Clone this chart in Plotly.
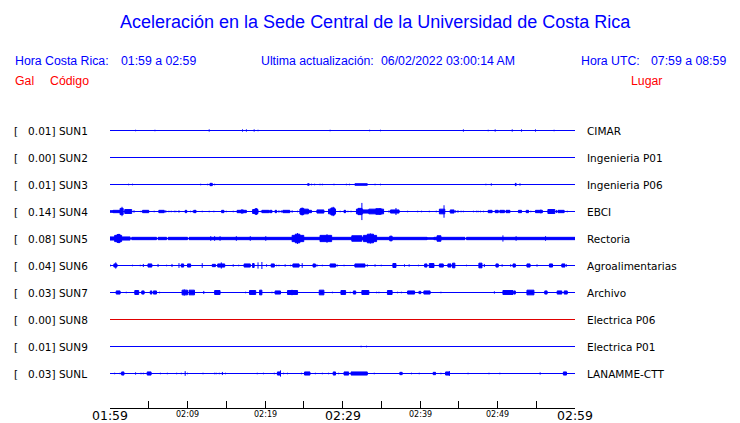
import plotly.graph_objects as go

# ---------------- data ----------------
TITLE = "Aceleración en la Sede Central de la Universidad de Costa Rica"
HORA_CR = "01:59 a 02:59"
HORA_UTC = "07:59 a 08:59"
ACTUALIZACION = "06/02/2022 03:00:14 AM"

CODES = ["SUN1", "SUN2", "SUN3", "SUN4", "SUN5", "SUN6", "SUN7", "SUN8", "SUN9", "SUNL"]
GAL = [0.01, 0.00, 0.01, 0.14, 0.08, 0.04, 0.03, 0.00, 0.01, 0.03]
PLACES = ["CIMAR", "Ingenieria P01", "Ingenieria P06", "EBCI", "Rectoria",
          "Agroalimentarias", "Archivo", "Electrica P06", "Electrica P01", "LANAMME-CTT"]

TICK_MINUTES = [0, 5, 10, 15, 20, 25, 30, 35, 40, 45, 50, 55, 60]   # minutes after 01:59
LABEL_MINUTES = [0, 10, 20, 30, 40, 50, 60]
TICK_LABELS = ["01:59", "02:09", "02:19", "02:29", "02:39", "02:49", "02:59"]
MAJOR_LABELS = ["01:59", "02:29", "02:59"]

# bursts: (start minute, end minute, half amplitude); spikes: (minute, half amplitude)
SUN1_BURSTS = []
SUN1_SPIKES = [(3.3, 1), (5.8, 1), (12.8, 1.5), (17.1, 1.5), (17.6, 1.5), (18.6, 1.5), (19.1, 1),
               (28.4, 1), (33.5, 1), (34.9, 1), (45.6, 1.5), (48.8, 1), (49.7, 1.5), (51.9, 1.5),
               (53.1, 1.5), (54.9, 1.5), (57.3, 1)]

SUN2_BURSTS = []
SUN2_SPIKES = []

SUN3_BURSTS = [(12.9, 13.2, 1.5), (25.5, 25.7, 1), (31.6, 33.2, 1), (52.3, 52.4, 1.5)]
SUN3_SPIKES = [(2.4, 1), (2.9, 1), (11.7, 1), (12.6, 1), (13.5, 1), (26.0, 1), (26.4, 1), (27.1, 1),
               (27.4, 1), (28.9, 1), (30.5, 1), (30.9, 1), (34.2, 1), (34.9, 1), (48.5, 1),
               (49.2, 1.5), (52.9, 1.5)]

SUN4_BURSTS = [(0.0, 0.4, 1), (0.4, 1.3, 1.5), (1.3, 1.7, 4), (1.9, 2.8, 2.5), (4.2, 5.0, 1.5),
               (6.3, 7.0, 1.5), (9.7, 9.9, 1.5), (10.8, 11.1, 1.5), (14.4, 14.7, 1.5),
               (16.4, 17.6, 1.5), (16.9, 17.2, 2), (18.4, 19.1, 2.5), (18.7, 19.0, 3.5),
               (19.6, 20.5, 1.5), (20.6, 20.9, 1.5), (21.3, 21.5, 1.5), (22.3, 23.2, 1.5),
               (24.5, 25.6, 3), (24.6, 25.0, 4), (25.6, 26.0, 1.5), (26.7, 27.6, 2),
               (28.2, 29.1, 3), (28.5, 29.0, 4.5), (30.2, 30.4, 1.5), (31.8, 32.6, 3),
               (32.0, 32.5, 4), (32.6, 33.4, 2), (33.4, 35.3, 3), (34.3, 35.0, 3.5),
               (36.2, 37.3, 2), (42.5, 43.2, 3), (43.9, 44.4, 2), (48.8, 49.3, 1.5),
               (49.7, 50.1, 1.5), (50.3, 50.9, 1.5), (51.1, 51.6, 1.5), (52.7, 53.1, 1.5),
               (53.7, 54.0, 1.5), (54.9, 55.8, 1.5), (56.5, 57.4, 2.5), (57.8, 58.6, 1.5)]
SUN4_SPIKES = [(1.55, 6), (3.1, 1.5), (4.0, 1), (5.7, 1), (7.2, 1.5), (7.6, 1), (7.9, 1), (8.3, 1),
               (8.5, 1), (8.9, 1.5), (10.4, 1), (10.7, 1), (11.9, 1), (12.8, 1), (13.4, 1), (15.0, 1),
               (15.9, 1), (18.9, 4), (19.5, 1), (19.9, 1), (21.8, 1.5), (22.1, 1.5), (23.5, 1.5),
               (24.2, 1), (24.8, 5), (28.8, 6), (29.7, 1), (30.7, 1), (31.1, 1), (32.5, 11),
               (34.8, 4), (36.0, 1.5), (36.9, 4.5), (38.4, 1), (39.7, 1), (40.2, 1), (41.2, 1),
               (42.1, 1), (43.1, 8), (44.6, 1.5), (44.9, 1.5), (45.3, 1), (45.6, 1), (46.9, 1),
               (47.3, 1), (47.5, 1), (47.8, 1), (48.2, 1), (54.3, 1), (55.6, 2.5), (56.9, 3),
               (57.6, 2), (59.0, 1)]

SUN5_BURSTS = [(0.0, 2.6, 2), (2.8, 6.0, 1.5), (6.2, 7.3, 1.5), (7.5, 10.0, 1.5), (10.2, 40.9, 1.5),
               (40.9, 41.8, 1), (41.8, 45.8, 1.5), (46.0, 60.0, 1.5),
               (0.6, 1.5, 4), (0.9, 1.3, 5), (23.5, 25.0, 4), (23.9, 24.5, 5.5), (27.1, 28.6, 4),
               (31.2, 32.5, 3.5), (32.7, 34.4, 4), (33.2, 34.0, 5.5), (36.1, 36.4, 3),
               (42.2, 42.7, 3.5)]
SUN5_SPIKES = [(1.16, 6), (24.2, 7), (28.0, 5.5), (33.6, 6.5), (13.0, 3), (13.5, 3), (14.2, 3),
               (16.3, 3), (18.1, 3), (20.1, 3), (50.7, 4), (52.4, 3), (56.2, 3)]

SUN6_BURSTS = [(0.5, 0.9, 2), (4.9, 5.4, 2), (9.2, 9.5, 2), (10.0, 10.4, 2), (13.2, 13.6, 1.5),
               (13.9, 14.8, 2), (17.3, 18.1, 2), (18.4, 18.6, 2.5), (20.8, 21.2, 2), (23.6, 24.4, 2),
               (26.2, 26.5, 2), (28.4, 29.1, 2), (31.6, 32.9, 2), (36.5, 36.9, 2.5), (40.6, 40.9, 2),
               (41.2, 41.8, 2.5), (42.5, 43.0, 2), (43.6, 44.0, 2), (44.2, 44.5, 3), (47.6, 48.0, 3),
               (49.8, 50.1, 2), (52.0, 52.3, 2), (53.8, 54.2, 2), (56.7, 57.1, 2), (58.3, 58.7, 2)]
SUN6_SPIKES = [(0.0, 1.5), (0.74, 4), (2.9, 1), (3.9, 1), (4.3, 2), (6.2, 2), (7.3, 1), (8.0, 2),
               (8.9, 3), (11.9, 3), (14.36, 4), (15.9, 1.5), (16.6, 1), (19.1, 4), (19.6, 4.5),
               (20.2, 1.5), (21.5, 1), (21.8, 1), (22.6, 1.5), (23.3, 1), (24.8, 3), (26.7, 1.5),
               (27.4, 1), (29.3, 1.5), (30.2, 1), (33.2, 1.5), (34.2, 1.5), (35.0, 1), (38.0, 1.5),
               (38.6, 1.5), (39.8, 1), (46.0, 1), (48.3, 2), (50.6, 1.5), (51.7, 1.5), (55.1, 1.5),
               (58.9, 1.5)]

SUN7_BURSTS = [(0.8, 1.3, 2), (3.2, 3.7, 2.5), (4.1, 4.4, 2), (5.2, 5.4, 2), (5.6, 6.0, 2),
               (9.3, 10.0, 3), (10.2, 10.9, 3), (13.5, 14.2, 2.5), (18.0, 18.8, 2.5), (19.3, 19.6, 3),
               (21.3, 22.0, 2), (22.9, 24.2, 2.5), (27.0, 27.6, 3), (29.8, 30.4, 2.5), (31.4, 31.7, 2),
               (32.5, 33.4, 2.5), (35.8, 36.4, 2.5), (38.4, 39.3, 2), (39.9, 40.1, 1.5),
               (40.5, 41.3, 2), (50.7, 52.0, 2.5), (52.1, 52.3, 2), (53.8, 54.7, 3), (56.1, 56.4, 2),
               (57.7, 58.3, 2), (58.6, 59.0, 2)]
SUN7_SPIKES = [(2.1, 1), (6.4, 1), (9.58, 4), (12.1, 2), (17.5, 1), (20.9, 1), (23.48, 3.5),
               (28.7, 1), (31.0, 1), (34.4, 1), (34.7, 1), (37.1, 1), (37.6, 1), (39.8, 1), (42.7, 1),
               (49.6, 1.5)]

SUN8_BURSTS = []
SUN8_SPIKES = []

SUN9_BURSTS = []
SUN9_SPIKES = [(32.4, 1), (33.1, 1)]

SUNL_BURSTS = [(1.5, 1.8, 2), (4.8, 5.3, 2), (21.6, 22.0, 2), (25.1, 25.8, 2), (28.8, 29.1, 2),
               (30.2, 30.8, 2), (31.1, 33.2, 2), (37.4, 37.7, 1.5), (41.7, 42.0, 1.5),
               (43.3, 43.8, 2), (58.5, 58.9, 2)]
SUNL_SPIKES = [(0.6, 1), (1.3, 1), (3.3, 1.5), (4.0, 1), (4.3, 1), (6.5, 1), (7.4, 1), (8.6, 1),
               (9.2, 1), (9.7, 3), (10.0, 1), (12.0, 1), (13.5, 1), (13.7, 1), (14.1, 1), (14.5, 2),
               (14.9, 1), (19.0, 1), (19.8, 1), (21.2, 1), (22.0, 4), (22.4, 1), (22.9, 1), (24.7, 1),
               (26.5, 1), (27.4, 1), (28.2, 1), (29.5, 1), (34.1, 1), (38.9, 1), (39.9, 1), (42.7, 1),
               (43.8, 3), (46.2, 1), (48.9, 1), (50.3, 1), (55.5, 1.5)]

# ---------------- layout constants ----------------
W, H = 740, 423
L, R, T, B = 110, 165, 118, 15
ROW = 27
AMP_SCALE = 0.78
BLUE = "#0000ff"
RED = "#ff0000"
TRACE_COLORS = [BLUE] * 10
TRACE_COLORS[7] = "#e00000"

ALL_BURSTS = [SUN1_BURSTS, SUN2_BURSTS, SUN3_BURSTS, SUN4_BURSTS, SUN5_BURSTS,
              SUN6_BURSTS, SUN7_BURSTS, SUN8_BURSTS, SUN9_BURSTS, SUNL_BURSTS]
ALL_SPIKES = [SUN1_SPIKES, SUN2_SPIKES, SUN3_SPIKES, SUN4_SPIKES, SUN5_SPIKES,
              SUN6_SPIKES, SUN7_SPIKES, SUN8_SPIKES, SUN9_SPIKES, SUNL_SPIKES]

fig = go.Figure()
for i, code in enumerate(CODES):
    c = -ROW * i
    xs, ys = [TICK_MINUTES[0], TICK_MINUTES[-1], None], [c, c, None]
    for s, e, a in ALL_BURSTS[i]:
        a = a * AMP_SCALE
        xs += [s, e, e, s, s, None]
        ys += [c - a, c - a, c + a, c + a, c - a, None]
    for t, a in ALL_SPIKES[i]:
        a = a * AMP_SCALE
        xs += [t, t, None]
        ys += [c - a, c + a, None]
    fig.add_trace(go.Scatter(x=xs, y=ys, mode="lines", fill="toself",
                             fillcolor=TRACE_COLORS[i],
                             line=dict(color=TRACE_COLORS[i], width=1),
                             hoverinfo="skip", showlegend=False, name=code))

plot_h = H - T - B


def px(xp):
    return (xp - L) / (W - L - R)


def py(yp):
    return (H - B - yp) / plot_h


ann = []


def text(t, xp, yp, size, color, family, xanchor="left", yanchor="middle"):
    ann.append(dict(text=t, x=px(xp), y=py(yp), xref="paper", yref="paper",
                    xanchor=xanchor, yanchor=yanchor, showarrow=False,
                    font=dict(size=size, color=color, family=family)))


HEAD = "Liberation Sans, Arial, sans-serif"
LAB = "DejaVu Sans, sans-serif"

text(TITLE, 375, 22.5, 18, BLUE, HEAD, xanchor="center")
text("Hora Costa Rica:", 13, 61, 12.3, BLUE, HEAD)
text(HORA_CR, 118.5, 61, 12.3, BLUE, HEAD)
text("Ultima actualización:", 258.5, 61, 12.3, BLUE, HEAD)
text(ACTUALIZACION, 378.5, 61, 12.3, BLUE, HEAD)
text("Hora UTC:", 578.5, 61, 12.3, BLUE, HEAD)
text(HORA_UTC, 649, 61, 12.3, BLUE, HEAD)
text("Gal", 13, 81, 12.3, RED, HEAD)
text("Código", 48, 81, 12.3, RED, HEAD)
text("Lugar", 628.5, 81, 12.3, RED, HEAD)

NB = "\u00a0"
for i, code in enumerate(CODES):
    yp = 130.5 + ROW * i
    text("[" + NB * 3 + f"{GAL[i]:.2f}]" + NB + code, 12, yp, 10.5, "black", LAB)
    text(PLACES[i], 585, yp, 10.5, "black", LAB)

for m, lab in zip(LABEL_MINUTES, TICK_LABELS):
    big = lab in MAJOR_LABELS
    ann.append(dict(text=lab, x=m, xref="x", y=py(415.5 if big else 414.5), yref="paper",
                    xanchor="center", yanchor="middle", showarrow=False, borderpad=0,
                    font=dict(size=12.5 if big else 8, color="black", family=LAB)))

fig.update_layout(
    width=W, height=H,
    margin=dict(l=L, r=R, t=T, b=B, pad=0),
    paper_bgcolor="white", plot_bgcolor="white",
    annotations=ann,
    xaxis=dict(range=[TICK_MINUTES[0], TICK_MINUTES[-1]], tickvals=TICK_MINUTES,
               showticklabels=False, ticks="inside", ticklen=7, tickwidth=1, tickcolor="black",
               showline=True, linecolor="black", linewidth=1, showgrid=False, zeroline=False,
               fixedrange=True),
    yaxis=dict(range=[-277.5, 12.5], visible=False, showgrid=False, zeroline=False,
               fixedrange=True),
)

fig.write_html("out.html", config={"displayModeBar": False},
               post_script="document.body.style.margin='0px';document.body.style.overflow='hidden';")
